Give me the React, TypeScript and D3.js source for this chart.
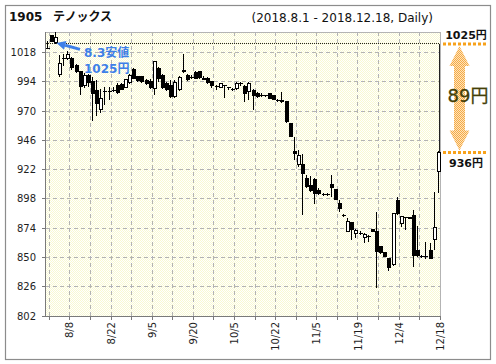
import React from 'react';
import * as d3 from 'd3';

// ---- data (Tenox 1905, daily, 2018-08-01 .. 2018-12-18) ----
const opens = [
  1021, 1031.5, 1026.5, 1000, 1013, 1013, 1013, 1007.5, 1002.5, 991,
  999.5, 994, 987, 971.5, 986, 986, 987, 991, 992, 989.5,
  993.5, 1004, 998, 998, 995, 994, 988.5, 1005, 999.5, 992.5,
  991, 981.5, 987.5, 1003.5, 999.5, 997.5, 1001.5, 1002.5, 996.5, 996.5,
  994, 990, 989.5, 990.5, 989, 988, 988.5, 992.5, 990, 986,
  986.5, 984.5, 983, 982.5, 984.5, 982.3, 979, 978.5, 977.5, 960,
  936.5, 925.8, 926, 915, 909, 914, 905, 901.5, 901.5, 909.5,
  905.3, 894.4, 884.5, 871.2, 878.5, 870, 870, 866.5, 867.5, 873,
  871.2, 859, 854, 849.3, 843.8, 897, 877.5, 883, 883, 884,
  856, 851, 850.5, 856, 865, 920.3,
];
const highs = [
  1027, 1032.5, 1034.5, 1016, 1017, 1019.5, 1014.5, 1008.5, 1003, 1001,
  1000, 997.5, 995, 988, 990, 990, 989.5, 993, 993, 996,
  1000, 1005, 999, 998.5, 996, 996.5, 1011, 1006, 1000.5, 993.5,
  995, 995, 998.5, 1017, 1000.5, 999.5, 1002.5, 1003, 998.5, 997.5,
  994.5, 991, 993, 991.5, 990, 989, 994, 994, 991.5, 994,
  988, 985.5, 984.5, 983.5, 985, 982.8, 980, 985.8, 978, 960.5,
  949, 938, 935, 917.6, 917, 915, 906.5, 902.5, 902.5, 917.6,
  906, 897, 885.5, 882, 879, 873, 871.5, 870, 868, 873.5,
  887.6, 859.5, 854.5, 849.5, 886, 899.8, 884, 883.5, 883.5, 888.9,
  876, 852, 863, 861.6, 904, 937.5,
];
const lows = [
  1020.5, 1026.5, 1025, 998, 1007, 1012, 1004, 1001, 983, 989,
  990, 962, 966, 968, 975, 979, 985.5, 984, 987, 988.5,
  992, 996, 994, 993, 991.5, 988, 983.5, 994, 988, 986,
  980.5, 981, 986.5, 1001.5, 994.5, 996, 996, 996, 995, 992.5,
  989, 987.5, 989, 980.5, 987, 986, 987.5, 990.5, 977.5, 979,
  971, 980.5, 981.5, 981.5, 979.5, 979, 977.5, 976.5, 960, 949,
  930, 924.5, 885, 907, 904, 894, 901, 900.5, 900.5, 899.8,
  897, 887.5, 883, 871, 864, 865.6, 868.5, 861.6, 863, 870.5,
  824.7, 853, 850, 839, 843, 885, 874.7, 872.5, 881.5, 842.4,
  850.5, 849.5, 849, 848.5, 856, 902.6,
];
const closes = [
  1021, 1027, 1030.5, 1009, 1012.5, 1016.5, 1005.5, 1002.5, 990, 999.5,
  993, 984, 976, 980.5, 985.5, 986, 987, 985, 988, 995.5,
  999, 997, 995, 994, 992.5, 989, 1010.5, 996.5, 989.5, 988,
  981.5, 993.5, 997.5, 1002, 995.5, 997, 997, 997.5, 995.5, 993,
  990.5, 989.5, 992.5, 990, 988.5, 987.5, 992.5, 992, 984.5, 992.7,
  983, 981.8, 983, 983, 980.5, 979.6, 978.5, 977.5, 961, 949.5,
  935.5, 933.2, 918.4, 908, 905, 902.6, 902.5, 901.5, 901.5, 907.5,
  897.7, 890.3, 884, 879.3, 873, 872, 869.5, 869.2, 867.5, 871.2,
  854.8, 854, 850.7, 842, 885.6, 885.6, 883.5, 882.5, 882, 851.2,
  851.5, 850.5, 850, 849.3, 874.7, 936,
];
const tickLabels = ['8/8', '8/22', '9/5', '9/20', '10/5', '10/22', '11/5', '11/19', '12/4', '12/18'];
const tickLabelIndex = [5, 15, 25, 35, 45, 55, 65, 75, 85, 95];
const gridIndex = d3.range(0, 96, 5);
const yTicks = [802, 826, 850, 874, 898, 922, 946, 970, 994, 1018];
const supportLow = 1025; // 8/3 low
const lastClose = 936;

const titleCode = '1905';
const titleName = 'テノックス';
const subTitle = '(2018.8.1 - 2018.12.18, Daily)';

export default function App() {
  const W = 496, H = 364;
  const left = 45.5, right = 440, top = 32.3, bottom = 316;
  const x = d3.scaleLinear().domain([0, 95]).range([46.8, 437.8]);
  const tickOff = 2.5;
  const y = d3.scaleLinear().domain([802, 1034.5]).range([bottom, top]);
  const n = opens.length;
  const font = "'DejaVu Sans', Verdana, sans-serif";
  const cjk = "'Noto Sans CJK JP', sans-serif";
  const blue = '#3e7fe8';
  const orange = '#f7a21b';
  const ySup = y(supportLow);
  const yLast = y(lastClose);
  const arrowX = 459.5;
  const arrowPath = d3.path();
  {
    const t = ySup + 2, b = yLast - 2, hh = 20, hw = 10, sw = 5.5;
    arrowPath.moveTo(arrowX, t);
    arrowPath.lineTo(arrowX + hw, t + hh);
    arrowPath.lineTo(arrowX + sw, t + hh);
    arrowPath.lineTo(arrowX + sw, b - hh);
    arrowPath.lineTo(arrowX + hw, b - hh);
    arrowPath.lineTo(arrowX, b);
    arrowPath.lineTo(arrowX - hw, b - hh);
    arrowPath.lineTo(arrowX - sw, b - hh);
    arrowPath.lineTo(arrowX - sw, t + hh);
    arrowPath.lineTo(arrowX - hw, t + hh);
    arrowPath.closePath();
  }
  // blue arrow toward 8/3 low
  const tip: [number, number] = [x(2) + 1.5, ySup - 1];
  const tail: [number, number] = [80, ySup + 5.5];
  const dx = tip[0] - tail[0], dy = tip[1] - tail[1];
  const len = Math.hypot(dx, dy);
  const ux = dx / len, uy = dy / len;
  const px = -uy, py = ux;
  const hl = 9, hwid = 4.5;
  const bx = tip[0] - ux * hl, by = tip[1] - uy * hl;
  const headPts = [
    [tip[0], tip[1]],
    [bx + px * hwid, by + py * hwid],
    [bx - px * hwid, by - py * hwid],
  ].map((p) => p.join(',')).join(' ');

  return (
    <svg width={W} height={H} style={{ position: 'absolute', left: 0, top: 0, background: '#fff' }}>
      <defs>
        <pattern id="bgDither" width="2" height="2" patternUnits="userSpaceOnUse">
          <rect width="2" height="2" fill="#ffffff" />
          <rect width="1" height="1" fill="#f9f9d2" />
          <rect x="1" y="1" width="1" height="1" fill="#f9f9d2" />
        </pattern>
        <pattern id="orDither" width="2" height="2" patternUnits="userSpaceOnUse">
          <rect width="2" height="2" fill="#fde3bd" />
          <rect width="1" height="1" fill="#f6ab45" />
          <rect x="1" y="1" width="1" height="1" fill="#f6ab45" />
        </pattern>
      </defs>
      <rect x={5.5} y={5.5} width={485} height={354} fill="#fff" stroke="#8c8c8c" strokeWidth={1.2} />
      {/* title */}
      <text x={9} y={21} fontFamily={font} fontWeight="bold" fontSize={12} fill="#111">{titleCode}</text>
      <text x={53} y={21} fontFamily={cjk} fontWeight="bold" fontSize={12} fill="#111">{titleName}</text>
      <text x={433} y={22} textAnchor="end" fontFamily={font} fontSize={12} fill="#111">{subTitle}</text>

      {/* plot background */}
      <rect x={left} y={top} width={right - left} height={bottom - top} fill="url(#bgDither)" stroke="#b4b4b4" strokeWidth={1} shapeRendering="crispEdges" />
      {/* grid */}
      <g stroke="#b3b3b3" strokeWidth={1} strokeDasharray="4,3" shapeRendering="crispEdges">
        {yTicks.slice(1).map((t) => (
          <line key={'hy' + t} x1={left} x2={right} y1={y(t)} y2={y(t)} />
        ))}
        {gridIndex.map((i) => (
          <line key={'vx' + i} x1={x(i) + tickOff} x2={x(i) + tickOff} y1={top} y2={bottom} />
        ))}
      </g>
      {/* axes */}
      <g stroke="#7a7a7a" strokeWidth={1} shapeRendering="crispEdges">
        <line x1={left} x2={left} y1={top} y2={bottom} />
        <line x1={left} x2={right} y1={bottom} y2={bottom} />
        {yTicks.map((t) => (
          <line key={'ty' + t} x1={left - 4} x2={left} y1={y(t)} y2={y(t)} />
        ))}
        {gridIndex.map((i) => (
          <line key={'tx' + i} x1={x(i) + tickOff} x2={x(i) + tickOff} y1={bottom} y2={bottom + 4} />
        ))}
      </g>
      <g fontFamily={font} fontSize={10} fill="#1e1e1e">
        {yTicks.map((t) => (
          <text key={'ly' + t} x={36} y={y(t)} dy="0.36em" textAnchor="end">{t}</text>
        ))}
        {tickLabels.map((l, k) => (
          <text key={'lx' + l} transform={`translate(${x(tickLabelIndex[k]) + tickOff},322) rotate(-90)`} dy="0.36em" textAnchor="end">{l}</text>
        ))}
      </g>

      {/* 1025 dotted support line */}
      <line x1={left} x2={right} y1={ySup} y2={ySup} stroke="#222" strokeWidth={1} strokeDasharray="1,1" shapeRendering="crispEdges" />

      {/* candles */}
      <g shapeRendering="crispEdges">
        {d3.range(n).map((i) => {
          const cx = Math.round(x(i)) + 0.5;
          const o = opens[i], c = closes[i];
          const up = c > o;
          const yTop = y(Math.max(o, c)), yBot = y(Math.min(o, c));
          const h = yBot - yTop;
          return (
            <g key={'c' + i}>
              <line x1={cx} x2={cx} y1={y(highs[i])} y2={y(lows[i])} stroke="#000" strokeWidth={1} />
              {h < 1.2 ? (
                <rect x={cx - 2} y={yTop - 0.5} width={4} height={1} fill="#000" />
              ) : (
                <rect x={cx - 1.5} y={yTop} width={3} height={h} fill={up ? '#fff' : '#000'} stroke="#000" strokeWidth={1} />
              )}
            </g>
          );
        })}
      </g>

      {/* range marker at right */}
      <line x1={439.5} x2={439.5} y1={ySup} y2={yLast} stroke="#222" strokeWidth={1} shapeRendering="crispEdges" />
      <line x1={443} x2={488} y1={ySup} y2={ySup} stroke={orange} strokeWidth={3} strokeDasharray="3,2" />
      <line x1={443} x2={488} y1={yLast} y2={yLast} stroke={orange} strokeWidth={3} strokeDasharray="3,2" />
      <path d={arrowPath.toString()} fill="url(#orDither)" />
      <text x={466} y={39} textAnchor="middle" fontFamily={font} fontWeight="bold" fontSize={11} fill="#111">{supportLow}<tspan fontFamily={cjk}>円</tspan></text>
      <text x={466} y={167} textAnchor="middle" fontFamily={font} fontWeight="bold" fontSize={11} fill="#111">{lastClose}<tspan fontFamily={cjk}>円</tspan></text>
      <text x={468} y={102} textAnchor="middle" fontFamily={font} fontSize={18} fill="#443f08" stroke="#443f08" strokeWidth={0.3}>{supportLow - lastClose}<tspan fontFamily={cjk}>円</tspan></text>

      {/* blue annotation */}
      <line x1={tail[0]} y1={tail[1]} x2={bx} y2={by} stroke={blue} strokeWidth={3} />
      <polygon points={headPts} fill={blue} />
      <text x={84} y={57} fontFamily={font} fontWeight="bold" fontSize={12} fill={blue}>8.3<tspan fontFamily={cjk}>安値</tspan></text>
      <text x={84} y={73} fontFamily={font} fontWeight="bold" fontSize={12} fill={blue}>{supportLow}<tspan fontFamily={cjk}>円</tspan></text>
    </svg>
  );
}
